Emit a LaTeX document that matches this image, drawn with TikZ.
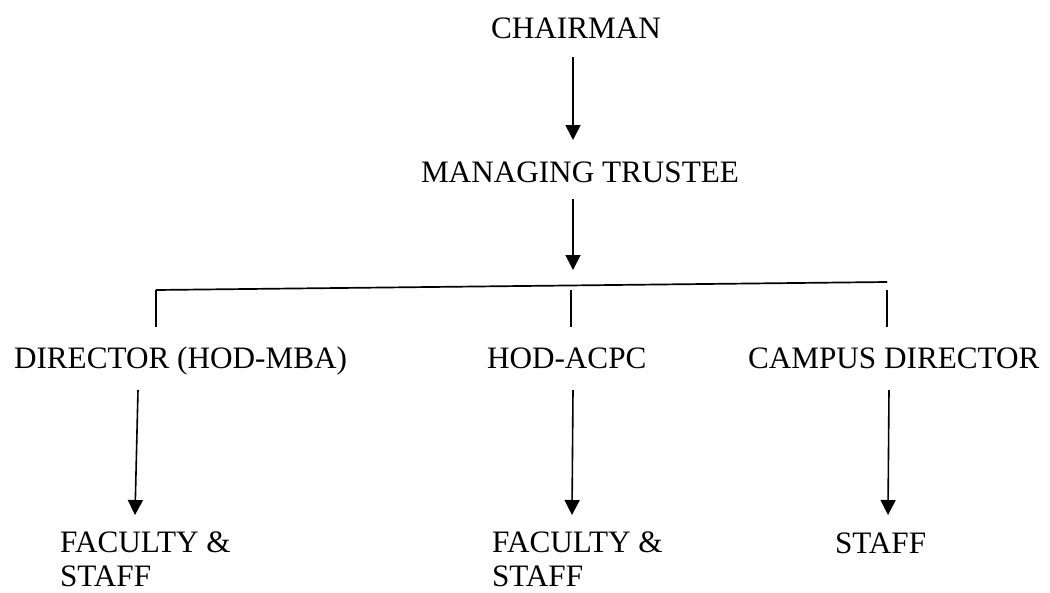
\documentclass[tikz,border=0pt]{standalone}
\usepackage{fontspec}
\setmainfont{Liberation Serif}
\usetikzlibrary{arrows.meta}
\tikzset{
  lbl/.style={inner sep=0pt, outer sep=0pt, anchor=base west, font=\fontsize{31.2}{34}\selectfont, text=black},
  lbl2/.style={lbl, anchor=north west, align=left},
  arr/.style={draw=black, line width=1.6pt, -{Triangle[length=15pt,width=15pt]}},
  bus/.style={draw=black, line width=1.7pt},
  drop/.style={draw=black, line width=1.3pt}
}
\begin{document}
\begin{tikzpicture}[x=1pt,y=-1pt]
\useasboundingbox (0,0) rectangle (1050,592);
% nodes
\node[lbl] (chair) at (491,38) {CHAIRMAN};
\node[lbl] (mt) at (421,182) {MANAGING TRUSTEE};
\node[lbl] (dir) at (14,368) {DIRECTOR (HOD-MBA)};
\node[lbl] (hod) at (487,368) {HOD-ACPC};
\node[lbl] (camp) at (748,368) {CAMPUS DIRECTOR};
\node[lbl2] (fs1) at (60,532) {FACULTY \&\\STAFF};
\node[lbl2] (fs2) at (492,532) {FACULTY \&\\STAFF};
\node[lbl] (staff) at (835,553) {STAFF};
% bus
\coordinate (busL) at (156,290);
\coordinate (busR) at (887,282);
% connectors
\draw[arr] ([shift={(82,19)}]chair.base west) -- ([shift={(152,-42)}]mt.base west);
\draw[arr] ([shift={(152,17)}]mt.base west) -- ([shift={(417,-20)}]busL);
\draw[bus] (busL) -- (busR);
\draw[drop] (busL) -- ([shift={(142,-41)}]dir.base west);
\draw[drop] ([shift={(84,-78)}]hod.base west) -- ([shift={(84,-41)}]hod.base west);
\draw[drop] ([shift={(139,-78)}]camp.base west) -- ([shift={(139,-41)}]camp.base west);
\draw[arr] ([shift={(124,22)}]dir.base west) -- ([shift={(75,-17)}]fs1.north west);
\draw[arr] ([shift={(86,22)}]hod.base west) -- ([shift={(80,-17)}]fs2.north west);
\draw[arr] ([shift={(141,22)}]camp.base west) -- ([shift={(53,-38)}]staff.base west);
\end{tikzpicture}
\end{document}
